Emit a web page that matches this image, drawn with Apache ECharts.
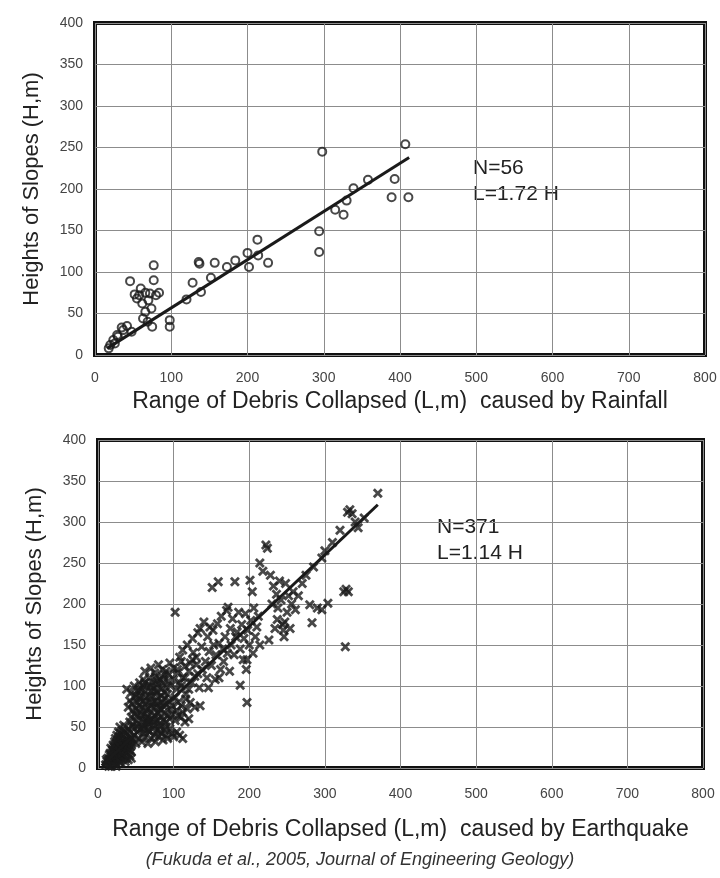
<!DOCTYPE html>
<html>
<head>
    <meta charset="UTF-8">
    <title>Debris range vs slope height</title>
    <script src="https://cdn.jsdelivr.net/npm/echarts@6/dist/echarts.min.js"></script>
    <style>
        html, body { margin: 0; padding: 0; background: #fff; }
    </style>
</head>
<body>
<div id="chart" style="width:720px; height:878px;"></div>
<script>
    // axis ticks
    var xTicks = [0, 100, 200, 300, 400, 500, 600, 700, 800];
    var yTicks = [0, 50, 100, 150, 200, 250, 300, 350, 400];

    // rainfall: [L, H]
    var rainPoints = [
        [298, 245], [407, 254], [393, 212], [389, 190], [411, 190], [358, 211], [339, 201],
        [330, 186], [315, 175], [326, 169], [294, 149], [294, 124], [213, 139], [200, 123],
        [202, 106], [214, 120], [227, 111], [184, 114], [173, 106], [157, 111], [136, 112],
        [152, 93], [139, 76], [128, 87], [120, 67], [98, 42], [98, 34], [77, 108], [77, 90],
        [46, 89], [52, 73], [58, 72], [66, 75], [72, 74], [80, 72], [62, 62], [66, 52],
        [63, 44], [75, 34], [69, 40], [42, 35], [37, 30], [48, 28], [29, 24], [24, 18],
        [20, 12], [26, 14], [18, 8], [55, 68], [70, 66], [60, 80], [74, 56], [35, 33],
        [30, 22], [137, 110], [84, 75]
    ];
    var rainLine = [[16, 8], [412, 238]];

    // earthquake: [L, H]
    var quakePoints = [
        // near the origin
        [10, 4], [12, 8], [14, 6], [15, 11], [16, 3], [17, 9], [18, 14], [19, 6], [20, 12], [21, 17],
        [22, 8], [22, 20], [23, 14], [24, 10], [25, 22], [25, 5], [26, 16], [27, 12], [27, 26], [28, 19],
        [29, 8], [29, 30], [30, 14], [30, 24], [31, 34], [31, 18], [32, 11], [32, 28], [33, 22], [33, 40],
        [34, 15], [34, 32], [35, 26], [35, 45], [36, 20], [36, 36], [37, 12], [37, 30], [38, 24], [38, 42],
        [39, 18], [39, 34], [40, 28], [40, 48], [41, 22], [41, 38], [42, 15], [42, 32], [43, 26], [43, 44],
        [44, 20], [44, 36], [45, 30], [45, 50], [13, 12], [16, 18], [19, 22], [21, 26], [24, 30], [26, 34],
        [28, 38], [30, 42], [32, 46], [34, 52], [14, 2], [18, 2], [24, 2], [30, 6], [36, 8], [40, 10],
        [44, 12], [11, 10], [20, 28], [23, 36], [27, 44], [29, 50], [25, 40], [22, 32], [17, 24], [15, 16],
        // main cluster
        [46, 34], [48, 40], [50, 30], [52, 44], [54, 36], [56, 48], [58, 32], [60, 42], [62, 38], [64, 50],
        [66, 30], [68, 44], [70, 36], [72, 48], [74, 40], [76, 32], [78, 46], [80, 38], [82, 50], [84, 42],
        [86, 34], [88, 46], [90, 40], [92, 36], [95, 48], [98, 42], [100, 38], [104, 44], [108, 40], [112, 36],
        [42, 56], [44, 62], [46, 52], [48, 66], [50, 58], [52, 64], [54, 54], [56, 68], [58, 60], [60, 56],
        [62, 66], [64, 58], [66, 62], [68, 54], [70, 68], [72, 60], [74, 56], [76, 64], [78, 58], [80, 66],
        [82, 54], [84, 62], [86, 58], [88, 68], [90, 56], [92, 64], [95, 60], [98, 66], [102, 58], [106, 64],
        [110, 62], [115, 56], [120, 60],
        [40, 74], [42, 82], [45, 78], [48, 86], [50, 72], [52, 80], [54, 76], [56, 88], [58, 74], [60, 82],
        [62, 78], [64, 86], [66, 72], [68, 80], [70, 76], [72, 88], [74, 74], [76, 82], [78, 78], [80, 86],
        [82, 72], [84, 80], [86, 76], [88, 84], [90, 78], [94, 82], [98, 76], [102, 86], [106, 80], [110, 76],
        [116, 84], [122, 80], [128, 74], [135, 76],
        [38, 96], [44, 92], [48, 100], [52, 94], [55, 104], [58, 96], [60, 108], [62, 92], [65, 100], [68, 110],
        [70, 94], [72, 104], [74, 98], [76, 112], [78, 92], [80, 102], [82, 108], [84, 96], [86, 104], [88, 114],
        [90, 98], [93, 106], [96, 100], [100, 108], [104, 96], [108, 104], [112, 110],
        [62, 118], [70, 122], [75, 116], [80, 126], [85, 120], [90, 118], [95, 128], [100, 122], [105, 116], [110, 130],
        [115, 124], [120, 118], [125, 132], [130, 126],
        [56, 84], [64, 70], [72, 80], [80, 74], [88, 92], [60, 100], [68, 88], [76, 94], [84, 88], [92, 90],
        [50, 88], [58, 64], [66, 46], [74, 52], [82, 44], [90, 50], [96, 72], [104, 70], [112, 68], [118, 72],
        [54, 96], [62, 104], [70, 100], [78, 106], [86, 110], [94, 114], [46, 70], [52, 50], [60, 48], [68, 58],
        // band along the line
        [102, 190], [105, 120], [108, 135], [110, 100], [112, 144], [115, 110], [118, 150], [120, 96], [122, 128], [125, 158],
        [126, 141], [128, 112], [130, 135], [132, 165], [134, 98], [135, 170], [137, 148], [138, 120], [140, 178], [142, 130],
        [144, 110], [145, 160], [147, 142], [148, 172], [150, 125], [151, 220], [152, 168], [153, 150], [155, 108], [156, 138],
        [158, 176], [159, 227], [160, 152], [162, 120], [163, 185], [165, 145], [166, 130], [168, 160], [170, 192], [171, 140],
        [172, 196], [174, 118], [175, 170], [176, 150], [178, 182], [180, 138], [181, 227], [182, 160], [184, 166], [186, 190],
        [188, 101], [188, 145], [190, 175], [192, 132], [193, 158], [195, 188], [196, 120], [197, 80], [197, 132], [198, 168],
        [200, 150], [201, 229], [202, 180], [204, 215], [205, 140], [206, 195], [208, 160], [210, 172], [212, 185], [214, 150],
        [116, 90], [124, 104], [132, 115], [146, 98], [160, 110],
        // upper part
        [214, 250], [218, 240], [222, 272], [224, 268], [226, 156], [228, 235], [230, 200], [232, 222], [234, 170], [236, 212],
        [237, 181], [238, 195], [240, 228], [242, 205], [244, 175], [245, 168], [246, 160], [247, 178], [248, 225], [250, 190],
        [252, 210], [254, 170], [256, 200], [258, 215], [261, 193], [265, 210], [270, 225], [275, 235], [280, 199], [283, 177],
        [285, 245], [290, 195], [296, 256], [296, 193], [300, 265], [304, 201], [310, 275], [320, 290], [325, 215], [328, 218],
        [331, 215], [327, 148], [330, 312], [333, 315], [336, 310], [340, 300], [344, 293], [352, 305], [370, 335]
    ];
    var quakeLine = [[5, 3], [370, 321]];

    var FONT = '"Liberation Sans", Arial, sans-serif';
    var INK = '#1a1a1a';
    var CROSS = 'path://M0,2L2,0L5,3L8,0L10,2L7,5L10,8L8,10L5,7L2,10L0,8L3,5Z';

    function xAxisFor(gridIndex, name, labelMargin, nameGap) {
        return {
            gridIndex: gridIndex,
            type: 'value',
            min: xTicks[0],
            max: xTicks[xTicks.length - 1],
            interval: xTicks[1] - xTicks[0],
            name: name,
            nameLocation: 'middle',
            nameGap: nameGap,
            nameTextStyle: {color: '#222', fontSize: 23, fontFamily: FONT},
            axisLine: {show: false},
            axisTick: {show: false},
            axisLabel: {color: '#444', fontSize: 14, fontFamily: FONT, margin: labelMargin},
            splitLine: {show: true, lineStyle: {color: '#8c8c8c', width: 1}}
        };
    }

    function yAxisFor(gridIndex) {
        return {
            gridIndex: gridIndex,
            type: 'value',
            min: yTicks[0],
            max: yTicks[yTicks.length - 1],
            interval: yTicks[1] - yTicks[0],
            name: 'Heights of Slopes (H,m)',
            nameLocation: 'middle',
            nameGap: 52,
            nameTextStyle: {color: '#222', fontSize: 22, fontFamily: FONT},
            axisLine: {show: false},
            axisTick: {show: false},
            axisLabel: {color: '#444', fontSize: 14, fontFamily: FONT, margin: 12},
            splitLine: {show: true, lineStyle: {color: '#8c8c8c', width: 1}}
        };
    }

    var chart = echarts.init(document.getElementById('chart'), null, {renderer: 'canvas'});
    var option = {
        backgroundColor: '#fff',
        animation: false,
        title: {
            text: '(Fukuda et al., 2005, Journal of Engineering Geology)',
            left: 'center',
            top: 846,
            textStyle: {color: '#333', fontSize: 18, fontStyle: 'italic', fontWeight: 'normal', fontFamily: FONT}
        },
        grid: [
            {left: 95, right: 15, top: 23, height: 332, show: true, borderColor: '#111', borderWidth: 4, backgroundColor: 'transparent'},
            {left: 98, right: 17, top: 440, height: 328, show: true, borderColor: '#111', borderWidth: 4, backgroundColor: 'transparent'}
        ],
        xAxis: [
            xAxisFor(0, 'Range of Debris Collapsed (L,m)  caused by Rainfall', 16, 35),
            xAxisFor(1, 'Range of Debris Collapsed (L,m)  caused by Earthquake', 19, 50)
        ],
        yAxis: [yAxisFor(0), yAxisFor(1)],
        graphic: [
            {type: 'text', left: 473, top: 155, style: {text: 'N=56\nL=1.72 H', fill: '#222', font: '21px ' + FONT, lineHeight: 26}},
            {type: 'text', left: 437, top: 514, style: {text: 'N=371\nL=1.14 H', fill: '#222', font: '21px ' + FONT, lineHeight: 26}}
        ],
        series: [
            {
                type: 'scatter', xAxisIndex: 0, yAxisIndex: 0,
                symbol: 'circle', symbolSize: 8,
                itemStyle: {color: 'rgba(0,0,0,0)', borderColor: INK, borderWidth: 2},
                data: rainPoints
            },
            {
                type: 'line', xAxisIndex: 0, yAxisIndex: 0,
                showSymbol: false, lineStyle: {color: INK, width: 3},
                data: rainLine
            },
            {
                type: 'scatter', xAxisIndex: 1, yAxisIndex: 1,
                symbol: CROSS, symbolSize: 10,
                itemStyle: {color: INK},
                data: quakePoints
            },
            {
                type: 'line', xAxisIndex: 1, yAxisIndex: 1,
                showSymbol: false, lineStyle: {color: INK, width: 3},
                data: quakeLine
            }
        ]
    };
    chart.setOption(option);
</script>
</body>
</html>
